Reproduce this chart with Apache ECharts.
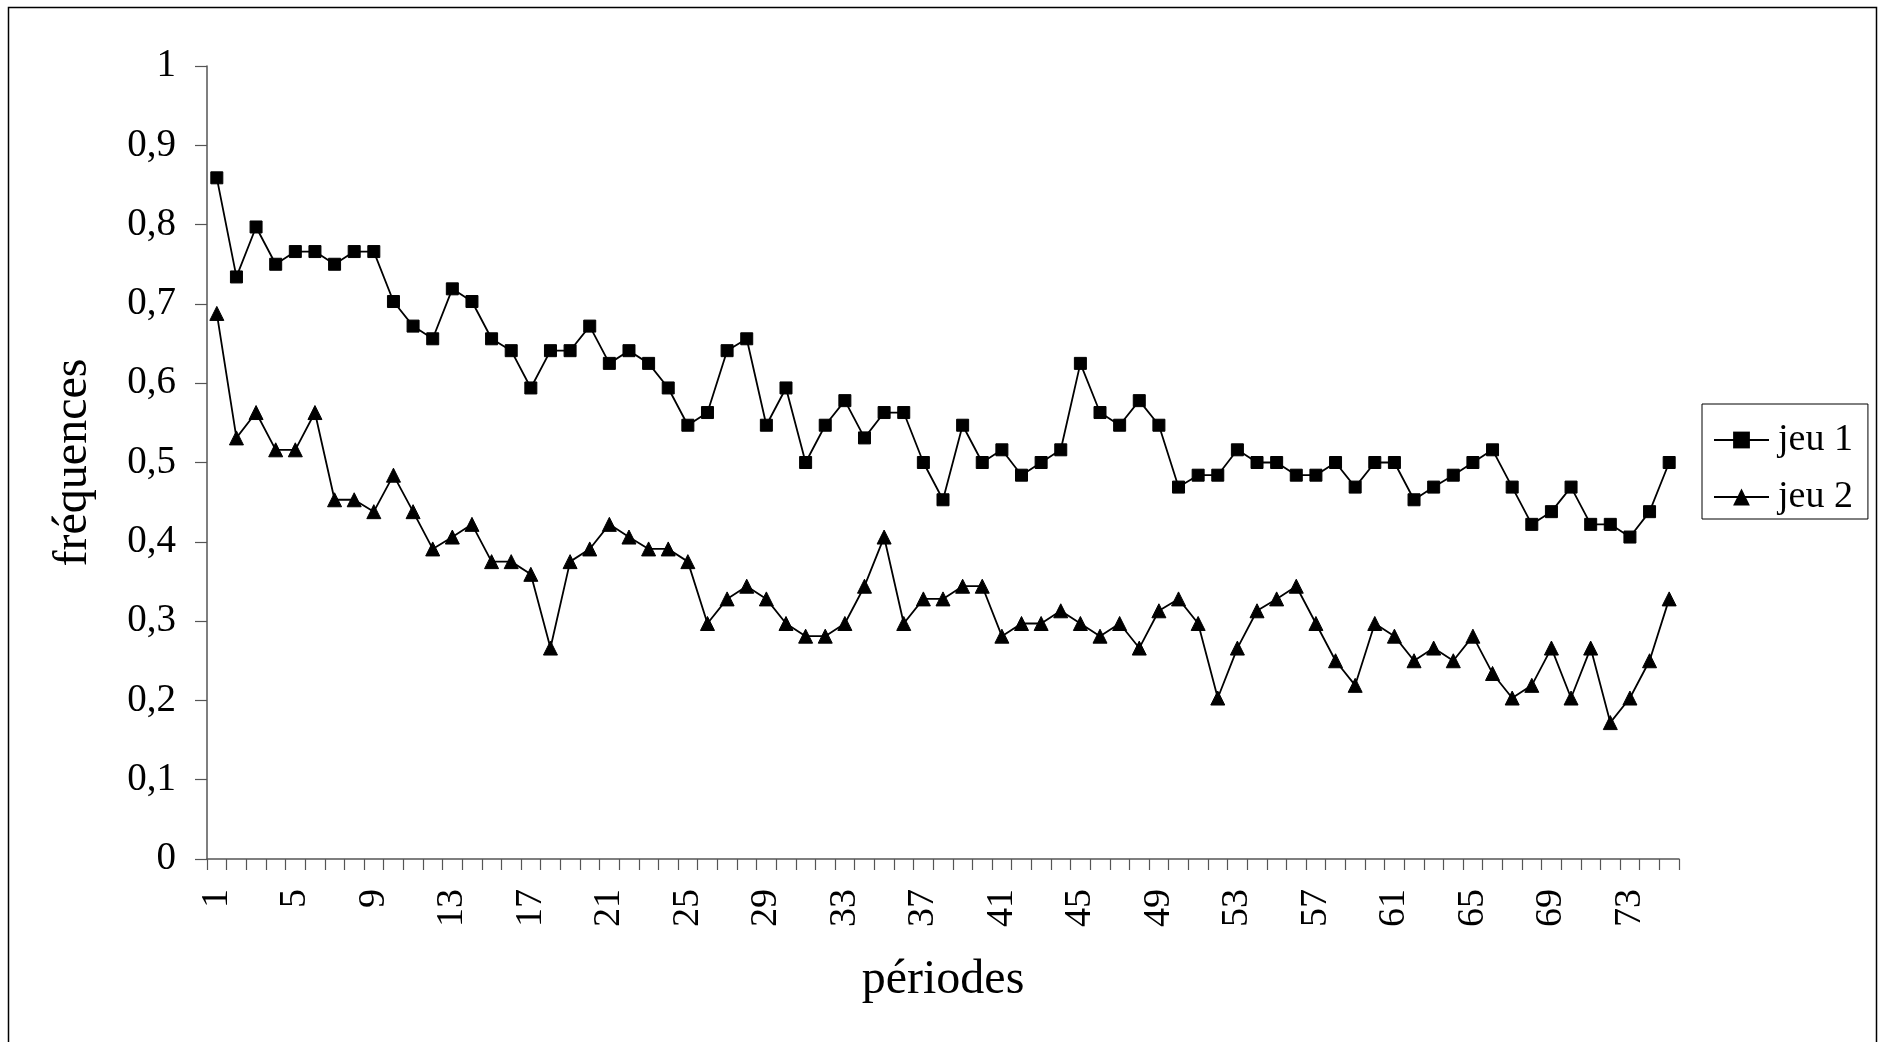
<!DOCTYPE html>
<html>
<head>
<meta charset="utf-8">
<title>fréquences par période</title>
<script src="https://cdn.jsdelivr.net/npm/echarts@6/dist/echarts.min.js"></script>
<style>
  html, body { margin: 0; padding: 0; background: #fff; }
  #chart { width: 1879px; height: 1042px; }
</style>
</head>
<body>
<div id="chart"></div>
<script>
// Périodes 1 à 75
const periodes = [
  '1','2','3','4','5','6','7','8','9','10',
  '11','12','13','14','15','16','17','18','19','20',
  '21','22','23','24','25','26','27','28','29','30',
  '31','32','33','34','35','36','37','38','39','40',
  '41','42','43','44','45','46','47','48','49','50',
  '51','52','53','54','55','56','57','58','59','60',
  '61','62','63','64','65','66','67','68','69','70',
  '71','72','73','74','75'
];

// Fréquences observées, jeu 1
const jeu1 = [
  0.859, 0.734, 0.797, 0.750, 0.766, 0.766, 0.750, 0.766, 0.766, 0.703,
  0.672, 0.656, 0.719, 0.703, 0.656, 0.641, 0.594, 0.641, 0.641, 0.672,
  0.625, 0.641, 0.625, 0.594, 0.547, 0.563, 0.641, 0.656, 0.547, 0.594,
  0.500, 0.547, 0.578, 0.531, 0.563, 0.563, 0.500, 0.453, 0.547, 0.500,
  0.516, 0.484, 0.500, 0.516, 0.625, 0.563, 0.547, 0.578, 0.547, 0.469,
  0.484, 0.484, 0.516, 0.500, 0.500, 0.484, 0.484, 0.500, 0.469, 0.500,
  0.500, 0.453, 0.469, 0.484, 0.500, 0.516, 0.469, 0.422, 0.438, 0.469,
  0.422, 0.422, 0.406, 0.438, 0.500
];

// Fréquences observées, jeu 2
const jeu2 = [
  0.688, 0.531, 0.563, 0.516, 0.516, 0.563, 0.453, 0.453, 0.438, 0.484,
  0.438, 0.391, 0.406, 0.422, 0.375, 0.375, 0.359, 0.266, 0.375, 0.391,
  0.422, 0.406, 0.391, 0.391, 0.375, 0.297, 0.328, 0.344, 0.328, 0.297,
  0.281, 0.281, 0.297, 0.344, 0.406, 0.297, 0.328, 0.328, 0.344, 0.344,
  0.281, 0.297, 0.297, 0.313, 0.297, 0.281, 0.297, 0.266, 0.313, 0.328,
  0.297, 0.203, 0.266, 0.313, 0.328, 0.344, 0.297, 0.250, 0.219, 0.297,
  0.281, 0.250, 0.266, 0.250, 0.281, 0.234, 0.203, 0.219, 0.266, 0.203,
  0.266, 0.172, 0.203, 0.250, 0.328
];

const serif = 'Liberation Serif, Times New Roman, serif';
const axisGrey = '#555';

const chart = echarts.init(document.getElementById('chart'), null, { renderer: 'canvas' });

chart.setOption({
  animation: false,
  backgroundColor: '#fff',
  textStyle: { fontFamily: serif, color: '#000' },
  graphic: [{
    type: 'rect',
    silent: true,
    shape: { x: 8.5, y: 7.5, width: 1868, height: 1045 },
    style: { fill: null, stroke: '#000', lineWidth: 1.5 }
  }],
  grid: {
    left: 207,
    right: 200,
    top: 66,
    bottom: 183,
    outerBoundsMode: 'none'
  },
  legend: {
    orient: 'vertical',
    left: 1702,
    top: 404,
    padding: [17, 15, 3, 11],
    itemGap: 19,
    itemWidth: 55,
    itemHeight: 21,
    borderColor: '#000',
    borderWidth: 1,
    backgroundColor: '#fff',
    textStyle: { fontFamily: serif, fontSize: 38, color: '#000', padding: [0, 0, 0, 4] },
    data: ['jeu 1', 'jeu 2']
  },
  xAxis: {
    type: 'category',
    data: periodes,
    boundaryGap: true,
    name: 'périodes',
    nameLocation: 'middle',
    nameGap: 97,
    nameTextStyle: { fontFamily: serif, fontSize: 48, color: '#000' },
    axisLine: { show: true, lineStyle: { color: axisGrey, width: 1.5 } },
    axisTick: { show: true, inside: false, length: 11, interval: 0, alignWithLabel: false, lineStyle: { color: axisGrey, width: 1.2 } },
    axisLabel: { interval: 3, rotate: 90, margin: 30, fontFamily: serif, fontSize: 38, color: '#000' },
    splitLine: { show: false }
  },
  yAxis: {
    type: 'value',
    min: 0,
    max: 1,
    interval: 0.1,
    name: 'fréquences',
    nameLocation: 'middle',
    nameGap: 110,
    nameRotate: 90,
    nameTextStyle: { fontFamily: serif, fontSize: 48, color: '#000' },
    axisLine: { show: true, lineStyle: { color: axisGrey, width: 1.5 } },
    axisTick: { show: true, inside: false, length: 12, lineStyle: { color: axisGrey, width: 1.2 } },
    axisLabel: {
      margin: 31,
      fontFamily: serif,
      fontSize: 39,
      color: '#000',
      formatter: function (v) { return String(+v.toFixed(1)).replace('.', ','); }
    },
    splitLine: { show: false }
  },
  series: [
    {
      name: 'jeu 1',
      type: 'line',
      data: jeu1,
      symbol: 'rect',
      symbolSize: 12,
      showSymbol: true,
      showAllSymbol: true,
      lineStyle: { color: '#000', width: 1.8 },
      itemStyle: { color: '#000', borderColor: '#000' }
    },
    {
      name: 'jeu 2',
      type: 'line',
      data: jeu2,
      symbol: 'triangle',
      symbolSize: 14,
      showSymbol: true,
      showAllSymbol: true,
      lineStyle: { color: '#000', width: 1.8 },
      itemStyle: { color: '#000', borderColor: '#000' }
    }
  ]
});
</script>
</body>
</html>
